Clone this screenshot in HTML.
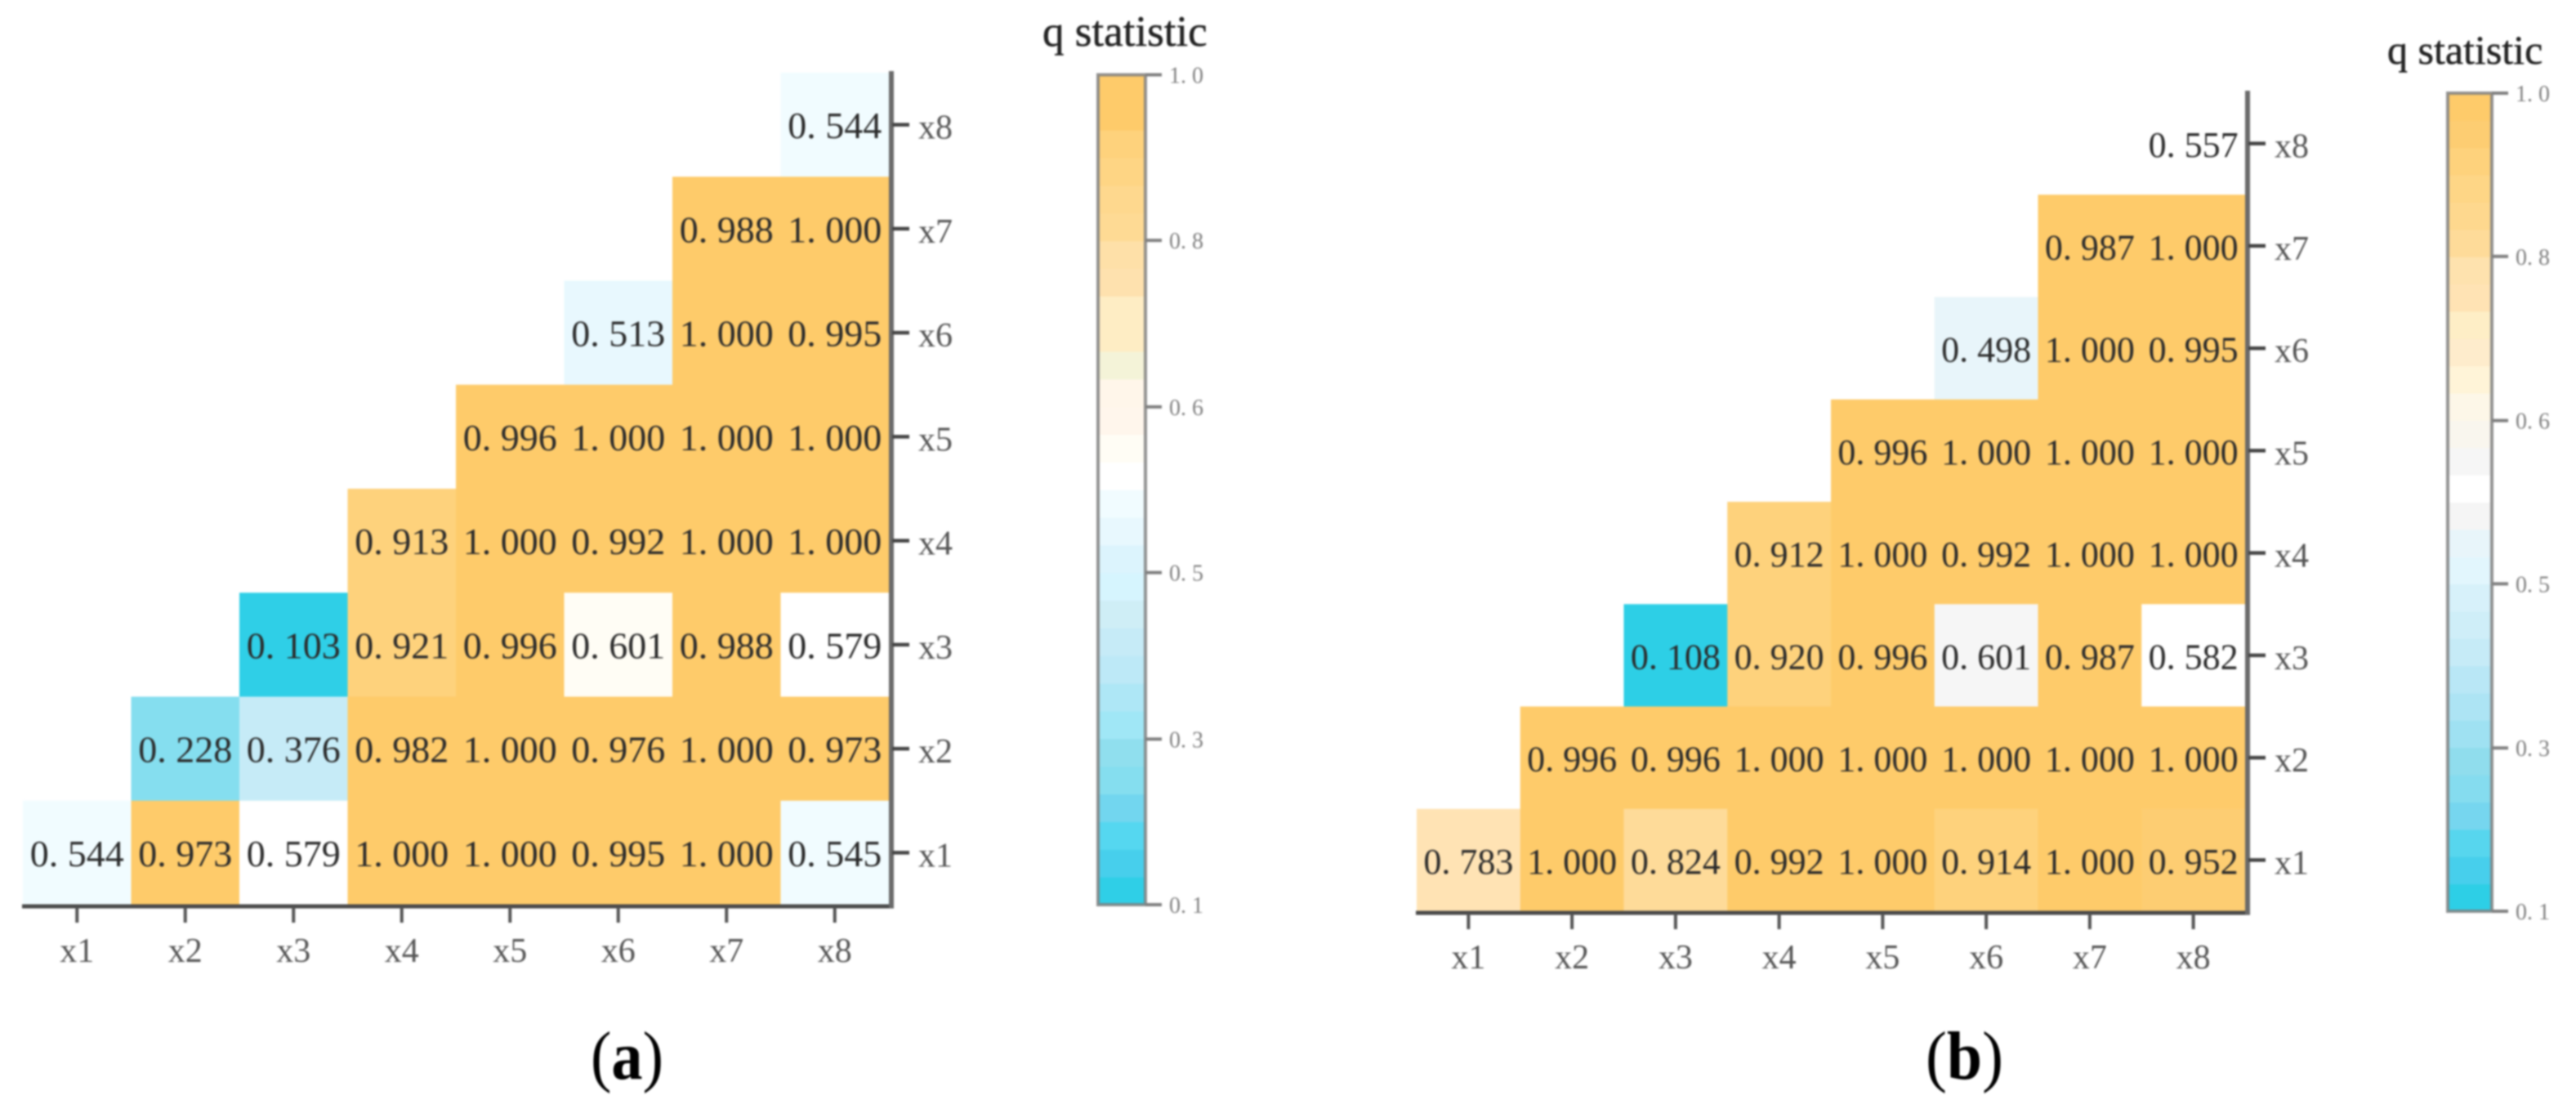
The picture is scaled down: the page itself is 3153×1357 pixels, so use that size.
<!DOCTYPE html>
<html lang="en">
<head>
<meta charset="utf-8">
<title>q statistic interaction heatmaps</title>
<style>
html,body{margin:0;padding:0;background:#fff;width:3153px;height:1357px;overflow:hidden}
svg{display:block;filter:blur(1px)}
text{font-family:"Liberation Serif",serif}
</style>
</head>
<body>
<svg id="chart" xmlns="http://www.w3.org/2000/svg" width="3153" height="1357" viewBox="0 0 3153 1357"></svg>
<script>
const categories = ['x1','x2','x3','x4','x5','x6','x7','x8'];
const rowOrder = ['x8','x7','x6','x5','x4','x3','x2','x1'];

const valuesA = [
  [null,null,null,null,null,null,null,0.544],
  [null,null,null,null,null,null,0.988,1.000],
  [null,null,null,null,null,0.513,1.000,0.995],
  [null,null,null,null,0.996,1.000,1.000,1.000],
  [null,null,null,0.913,1.000,0.992,1.000,1.000],
  [null,null,0.103,0.921,0.996,0.601,0.988,0.579],
  [null,0.228,0.376,0.982,1.000,0.976,1.000,0.973],
  [0.544,0.973,0.579,1.000,1.000,0.995,1.000,0.545]
];
const valuesB = [
  [null,null,null,null,null,null,null,0.557],
  [null,null,null,null,null,null,0.987,1.000],
  [null,null,null,null,null,0.498,1.000,0.995],
  [null,null,null,null,0.996,1.000,1.000,1.000],
  [null,null,null,0.912,1.000,0.992,1.000,1.000],
  [null,null,0.108,0.920,0.996,0.601,0.987,0.582],
  [null,0.996,0.996,1.000,1.000,1.000,1.000,1.000],
  [0.783,1.000,0.824,0.992,1.000,0.914,1.000,0.952]
];
const barTicksA = [0.103,0.282,0.462,0.641,0.821,1.000];
const barTicksB = [0.108,0.286,0.465,0.643,0.822,1.000];

/* colour bands, lowest value first */
const paletteA = ['#2fcfe7','#47cfec','#55d7f0','#72d6ef','#85deef','#90dfee','#a0e7f6','#aee7f6','#bde9f7','#c6ebf7',
  '#cfeef6','#d6f5fe','#dcf4fd','#e8f8fe','#f1fcff','#ffffff','#fffdf5','#fff6ec','#fff6ea','#f4f3d8',
  '#feedc4','#feedc4','#fee1ae','#fee0a8','#feda94','#fed88e','#fed584','#fed27c','#fecb6a','#fecb6a'];
const paletteB = ['#2dcfe6','#47cfec','#57d6ee','#76d6ef','#85dcef','#90dded','#9fe1f2','#ade4f4','#b9e7f6','#c6ebf7',
  '#cfeef8','#d7f1fa','#e2f6fd','#e8f5fa','#f5f5f5','#ffffff','#f6f6f6','#f9f6ee','#fdf7e8','#fff4d8',
  '#feeccc','#feeec6','#ffe3b4','#fee2ae','#fedb99','#fed88e','#fed686','#fed27c','#fdcd72','#fecb6a'];

const svg = document.getElementById('chart');
const NS = 'http://www.w3.org/2000/svg';

function mk(tag, attrs, parent, txt) {
  const el = document.createElementNS(NS, tag);
  for (const k in attrs) el.setAttribute(k, attrs[k]);
  if (txt !== undefined) el.textContent = txt;
  parent.appendChild(el);
  return el;
}

function drawPanel(p) {
  const g = mk('g', {}, svg);
  
  

  const flat = p.values.flat().filter(function (v) { return v !== null; });
  const dMin = Math.min.apply(null, flat);
  const dMax = Math.max.apply(null, flat);
  const cw = (p.right - p.left) / categories.length;
  const rh = (p.bottom - p.top) / rowOrder.length;
  const xPos = function (i) { return p.left + i * cw; };
  const yPos = function (r) { return p.top + r * rh; };
  const colour = function (v) {
    const n = p.palette.length;
    const idx = Math.min(n - 1, Math.max(0, Math.floor((v - dMin) / (dMax - dMin) * n)));
    return p.palette[idx];
  };

  /* cells */
  p.values.forEach(function (row, r) {
    row.forEach(function (v, c) {
      if (v === null) return;
      const cell = mk('rect', {x: xPos(c), y: yPos(r), width: cw + 0.5, height: rh + 0.5, fill: colour(v)}, g);
      
      
    });
  });
  /* cell values */
  p.values.forEach(function (row, r) {
    row.forEach(function (v, c) {
      if (v === null) return;
      const t = mk('text', {x: xPos(c) + cw / 2, y: yPos(r) + rh / 2 + 16.5, 'font-size': p.valueFont, 'text-anchor': 'middle', fill: '#2b2b2b', dx: '0 0 ' + (p.valueFont / 4)}, g, v.toFixed(3));
      
      
    });
  });

  /* axes */
  const xAxis = mk('line', {x1: p.left - 1, x2: p.right + 6, y1: p.bottom + 2, y2: p.bottom + 2, stroke: '#4a4a4a', 'stroke-width': 5}, g);
  
  
  const yAxis = mk('line', {x1: p.right + 3, x2: p.right + 3, y1: p.top - 2, y2: p.bottom + 4, stroke: '#6a6a6a', 'stroke-width': 6}, g);
  
  

  categories.forEach(function (name, i) {
    const cx = xPos(i) + cw / 2;
    const tick = mk('line', {x1: cx, x2: cx, y1: p.bottom + 3, y2: p.bottom + 22, stroke: '#555', 'stroke-width': 4}, g);
    
    
    const lab = mk('text', {x: cx, y: p.bottom + 70, 'font-size': p.axisFont, 'text-anchor': 'middle', fill: '#555'}, g, name);
    
    
  });
  rowOrder.forEach(function (name, r) {
    const cy = yPos(r) + rh / 2;
    const tick = mk('line', {x1: p.right + 4, x2: p.right + 25, y1: cy, y2: cy, stroke: '#444', 'stroke-width': 4.5}, g);
    
    
    const lab = mk('text', {x: p.right + 36, y: cy + 17, 'font-size': p.axisFont, fill: '#555'}, g, name);
    
    
  });

  /* colour bar */
  const b = p.bar;
  const bandH = (b.bottom - b.top) / p.palette.length;
  const barY = function (v) { return b.bottom - (v - dMin) / (dMax - dMin) * (b.bottom - b.top); };
  p.palette.forEach(function (col, i) {
    const band = mk('rect', {x: b.left, y: b.bottom - (i + 1) * bandH, width: b.right - b.left, height: bandH + 0.5, fill: col}, g);
    
    
  });
  const frame = mk('rect', {x: b.left, y: b.top, width: b.right - b.left, height: b.bottom - b.top, fill: 'none', stroke: '#808080', 'stroke-opacity': 0.85, 'stroke-width': 4}, g);
  
  
  p.barTicks.forEach(function (v, i) {
    const y = barY(v);
    const tick = mk('line', {x1: b.right, x2: b.right + 20, y1: y, y2: y, stroke: '#808080', 'stroke-width': 4}, g);
    
    
    const lab = mk('text', {x: b.labelX, y: y + 10, 'font-size': 28, fill: '#808080', dx: '0 0 7'}, g, v.toFixed(1));
    
    
  });
  const title = mk('text', {x: p.titleX, y: p.titleY, 'font-size': p.titleFont, fill: '#222', stroke: '#222', 'stroke-width': 0.5}, g, 'q statistic');
  
  

  /* caption */
  const cap = mk('text', {x: p.capX, y: 1320, 'font-size': 84, fill: '#000', textLength: p.capWidth, lengthAdjust: 'spacingAndGlyphs'}, g);
  
  
  mk('tspan', {}, cap, '(');
  mk('tspan', {'font-weight': 'bold'}, cap, p.id);
  mk('tspan', {}, cap, ')');
}

drawPanel({
  id: 'a', values: valuesA, palette: paletteA, barTicks: barTicksA,
  left: 28, right: 1088, top: 89, bottom: 1107,
  valueFont: 46, axisFont: 42,
  bar: {left: 1344, right: 1402, top: 91.5, bottom: 1107, labelX: 1431},
  titleX: 1276, titleY: 56, titleFont: 53, capX: 723, capWidth: 89
});
drawPanel({
  id: 'b', values: valuesB, palette: paletteB, barTicks: barTicksB,
  left: 1734, right: 2748, top: 113, bottom: 1115,
  valueFont: 44, axisFont: 42,
  bar: {left: 2996, right: 3050, top: 114, bottom: 1115, labelX: 3079},
  titleX: 2922, titleY: 78, titleFont: 50, capX: 2357, capWidth: 95
});
</script>
</body>
</html>
